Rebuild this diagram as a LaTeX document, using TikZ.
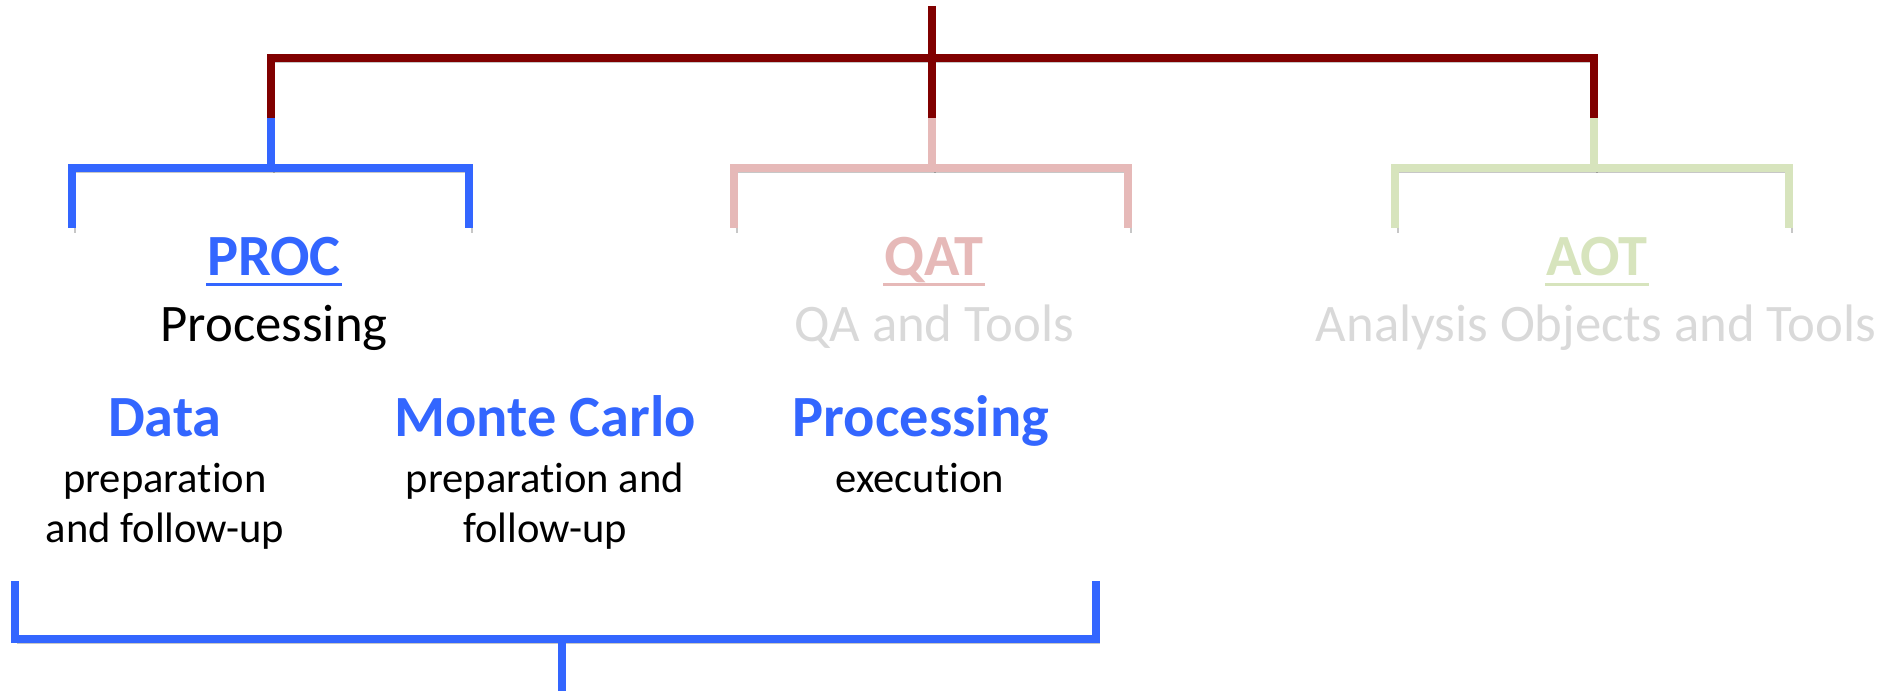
\documentclass[tikz,border=0pt]{standalone}
\usepackage{fontspec}
\setmainfont{Carlito}[Ligatures=NoCommon]
\usetikzlibrary{positioning,calc}

\definecolor{treered}{RGB}{128,0,0}
\definecolor{procblue}{RGB}{51,102,255}
\definecolor{qatpink}{RGB}{230,185,184}
\definecolor{aotgreen}{RGB}{215,228,189}
\definecolor{dimgrey}{RGB}{217,217,217}

\tikzset{
  bar/.style={line width=2.3pt,
    preaction={draw=black, opacity=.22, transform canvas={xshift=.8pt, yshift=-1.3pt}}},
  head/.style={inner sep=0pt, anchor=base, font=\fontsize{16.6}{19}\selectfont\bfseries},
  sub/.style={inner sep=0pt, anchor=base, font=\fontsize{15}{18}\selectfont},
  note/.style={inner sep=0pt, anchor=base, align=center, font=\fontsize{12.1}{14.2}\selectfont},
  uline/.style={line width=.85pt},
}

\begin{document}
\begin{tikzpicture}[x=0.01cm, y=-0.01cm]
    \useasboundingbox (0,0) rectangle (1888,691);

    \def\ya{58}
    \def\yb{118}
    \def\yc{168}
    \def\yd{228}
    % main tree
    \coordinate (root) at (932,6);
    \coordinate (rl) at (271,\ya);
    \coordinate (rm) at (932,\ya);
    \coordinate (rr) at (1594,\ya);
    \coordinate (jl) at (271,\yb);
    \coordinate (jm) at (932,\yb);
    \coordinate (jr) at (1594,\yb);
    \draw[bar, treered] (jl) -- (rl) -- (rr) -- (jr);
    \draw[bar, treered] (root) -- (jm);

    % PROC bracket
    \draw[bar, procblue] (jl) -- (271,\yc);
    \draw[bar, procblue] (72,\yd) -- (72,\yc) -- (469,\yc) -- (469,\yd);
    % QAT bracket
    \draw[bar, qatpink] (jm) -- (932,\yc);
    \draw[bar, qatpink] (734,\yd) -- (734,\yc) -- (1128,\yc) -- (1128,\yd);
    % AOT bracket
    \draw[bar, aotgreen] (jr) -- (1594,\yc);
    \draw[bar, aotgreen] (1395,\yd) -- (1395,\yc) -- (1789,\yc) -- (1789,\yd);

    % titles
    \node[head, text=procblue] (proc) at (274,275) {PROC};
    \draw[uline, procblue] ([yshift=-.9mm]proc.base west) -- ([yshift=-.9mm]proc.base east);
    \node[sub] (procname) at (274,341) {Processing};

    \node[head, text=qatpink] (qat) at (934,275) {QAT};
    \draw[uline, qatpink] ([yshift=-.9mm]qat.base west) -- ([yshift=-.9mm]qat.base east);
    \node[sub, text=dimgrey] (qatname) at (934,341) {QA and Tools};

    \node[head, text=aotgreen] (aot) at (1597,275) {AOT};
    \draw[uline, aotgreen] ([yshift=-.9mm]aot.base west) -- ([yshift=-.9mm]aot.base east);
    \node[sub, text=dimgrey] (aotname) at (1596,341) {Analysis Objects and Tools};

    % PROC tasks (two-line notes sit on their last baseline)
    \node[head, text=procblue] (data) at (165,436) {Data};
    \node[note] (datanote) at (165,542) {preparation\\and follow-up};
    \node[head, text=procblue] (mc) at (545,436) {Monte Carlo};
    \node[note] (mcnote) at (545,542) {preparation and\\follow-up};
    \node[head, text=procblue] (exec) at (921,436) {Processing};
    \node[note] (execnote) at (920,492) {execution};

    % bottom bracket
    \draw[bar, procblue] (15,581) -- (15,639) -- (1096,639) -- (1096,581);
    \draw[bar, procblue] (562,639) -- (562,691);

\end{tikzpicture}
\end{document}
